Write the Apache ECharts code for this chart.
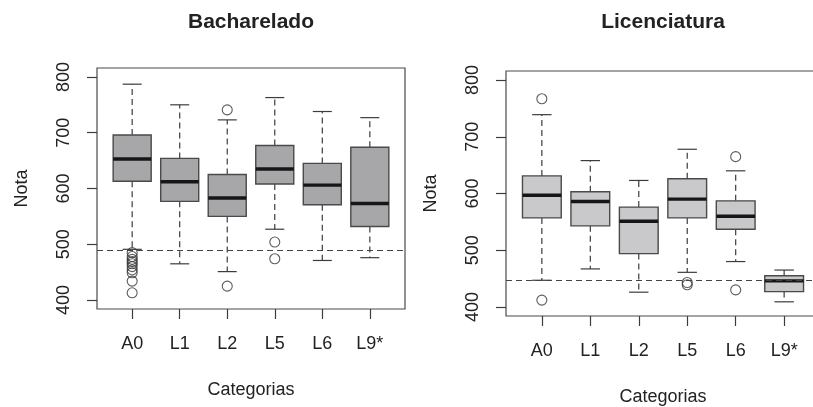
<!DOCTYPE html>
<html>
<head>
<meta charset="utf-8">
<style>
  html, body { margin: 0; padding: 0; background: #fff; }
  #main { width: 813px; height: 407px; }
</style>
<script src="https://cdn.jsdelivr.net/npm/echarts@6/dist/echarts.min.js"></script>
</head>
<body>
<div id="main"></div>
<script>
// categorias
var categories = ['A0', 'L1', 'L2', 'L5', 'L6', 'L9*']
var yTicks = [400, 500, 600, 700, 800]

// Bacharelado: [min, Q1, mediana, Q3, max]
var bachStats = [
  [491, 613, 653, 696, 787],
  [465, 577, 612, 654, 750],
  [451, 550, 583, 625, 723],
  [527, 608, 635, 677, 763],
  [471, 571, 606, 645, 738],
  [476, 532, 573, 674, 727]
]
// [indice da categoria, nota]
var bachOutliers = [
  [0, 485], [0, 478], [0, 473], [0, 469], [0, 465], [0, 460], [0, 454], [0, 449], [0, 434], [0, 413],
  [2, 741], [2, 425],
  [3, 504], [3, 474]
]
var bachCut = 490

// Licenciatura
var licStats = [
  [447, 557, 597, 631, 739],
  [467, 543, 586, 603, 658],
  [426, 494, 551, 576, 623],
  [461, 557, 590, 626, 678],
  [480, 537, 560, 587, 640],
  [409, 427, 446, 455, 465]
]
var licOutliers = [
  [0, 767], [0, 412],
  [3, 443], [3, 439],
  [4, 665], [4, 430]
]
var licCut = 447

var FONT = "'Liberation Sans', Arial, sans-serif"
var LINE = '#3c3c3c'

function boxData(stats) {
  return stats.map(function (s, i) { return [i + 1].concat(s) })
}
function outData(list) {
  return list.map(function (p) { return [p[0] + 1, p[1]] })
}

function makeRender(fill) {
  return function (params, api) {
    var x = api.value(0)
    var half = api.size([0.4, 0])[0]
    var cap = api.size([0.2, 0])[0]
    var pMin = api.coord([x, api.value(1)])
    var pQ1 = api.coord([x, api.value(2)])
    var pMed = api.coord([x, api.value(3)])
    var pQ3 = api.coord([x, api.value(4)])
    var pMax = api.coord([x, api.value(5)])
    var cx = pMin[0]
    var dash = { stroke: LINE, lineWidth: 1.2, lineDash: [6, 4] }
    var solid = { stroke: LINE, lineWidth: 1.2 }
    return {
      type: 'group',
      children: [
        { type: 'line', shape: { x1: cx, y1: pQ3[1], x2: cx, y2: pMax[1] }, style: dash },
        { type: 'line', shape: { x1: cx, y1: pQ1[1], x2: cx, y2: pMin[1] }, style: dash },
        { type: 'line', shape: { x1: cx - cap, y1: pMax[1], x2: cx + cap, y2: pMax[1] }, style: solid },
        { type: 'line', shape: { x1: cx - cap, y1: pMin[1], x2: cx + cap, y2: pMin[1] }, style: solid },
        {
          type: 'rect',
          shape: { x: cx - half, y: pQ3[1], width: half * 2, height: pQ1[1] - pQ3[1] },
          style: { fill: fill, stroke: '#4a4a4a', lineWidth: 1.4 }
        },
        {
          type: 'line',
          shape: { x1: cx - half, y1: pMed[1], x2: cx + half, y2: pMed[1] },
          style: { stroke: '#161616', lineWidth: 3.4 }
        }
      ]
    }
  }
}

function makeXAxis(gridIndex, nameGap) {
  var ticks = categories.map(function (c, i) { return i + 1 })
  return {
    type: 'value',
    gridIndex: gridIndex,
    min: 0.26,
    max: 6.74,
    name: 'Categorias',
    nameLocation: 'middle',
    nameGap: nameGap,
    nameTextStyle: { fontFamily: FONT, fontSize: 18, color: '#222' },
    axisLine: { show: false },
    splitLine: { show: false },
    axisTick: { show: true, customValues: ticks, length: 10, lineStyle: { color: LINE, width: 1.2 } },
    axisLabel: {
      customValues: ticks,
      margin: 26,
      fontFamily: FONT,
      fontSize: 18,
      color: '#222',
      formatter: function (v) { return categories[Math.round(v) - 1] }
    }
  }
}

function makeYAxis(gridIndex) {
  return {
    type: 'value',
    gridIndex: gridIndex,
    min: 384,
    max: 816,
    name: 'Nota',
    nameLocation: 'middle',
    nameGap: 66,
    nameTextStyle: { fontFamily: FONT, fontSize: 18, color: '#222' },
    axisLine: { show: false },
    splitLine: { show: false },
    axisTick: { show: true, customValues: yTicks, length: 10, lineStyle: { color: LINE, width: 1.2 } },
    axisLabel: {
      customValues: yTicks,
      rotate: 90,
      margin: 24,
      fontFamily: FONT,
      fontSize: 18,
      color: '#222'
    }
  }
}

function cutLine(value) {
  return {
    silent: true,
    symbol: 'none',
    label: { show: false },
    lineStyle: { color: '#444', type: [6, 4], width: 1.1 },
    data: [{ yAxis: value }]
  }
}

var myChart = echarts.init(document.getElementById('main'))
var option = {
  animation: false,
  title: [
    {
      text: 'Bacharelado', left: 251, top: 12, textAlign: 'center', padding: 0,
      textStyle: { fontFamily: FONT, fontSize: 21, fontWeight: 'bold', color: '#222' }
    },
    {
      text: 'Licenciatura', left: 663, top: 12, textAlign: 'center', padding: 0,
      textStyle: { fontFamily: FONT, fontSize: 21, fontWeight: 'bold', color: '#222' }
    }
  ],
  grid: [
    {
      left: 97, top: 68, width: 308, height: 241, outerBoundsMode: 'none',
      show: true, borderColor: '#4a4a4a', borderWidth: 1.2, backgroundColor: 'transparent'
    },
    {
      left: 506, top: 71, width: 314, height: 245, outerBoundsMode: 'none',
      show: true, borderColor: '#4a4a4a', borderWidth: 1.2, backgroundColor: 'transparent'
    }
  ],
  xAxis: [makeXAxis(0, 72), makeXAxis(1, 72)],
  yAxis: [makeYAxis(0), makeYAxis(1)],
  series: [
    {
      type: 'custom',
      xAxisIndex: 0,
      yAxisIndex: 0,
      renderItem: makeRender('#a7a7aa'),
      encode: { x: 0, y: [1, 2, 3, 4, 5] },
      data: boxData(bachStats)
    },
    {
      type: 'scatter',
      xAxisIndex: 0,
      yAxisIndex: 0,
      symbol: 'circle',
      symbolSize: 10,
      itemStyle: { color: 'rgba(0,0,0,0)', borderColor: '#333', borderWidth: 1.1 },
      data: outData(bachOutliers),
      markLine: cutLine(bachCut)
    },
    {
      type: 'custom',
      xAxisIndex: 1,
      yAxisIndex: 1,
      renderItem: makeRender('#c9c9cb'),
      encode: { x: 0, y: [1, 2, 3, 4, 5] },
      data: boxData(licStats)
    },
    {
      type: 'scatter',
      xAxisIndex: 1,
      yAxisIndex: 1,
      symbol: 'circle',
      symbolSize: 10,
      itemStyle: { color: 'rgba(0,0,0,0)', borderColor: '#333', borderWidth: 1.1 },
      data: outData(licOutliers),
      markLine: cutLine(licCut)
    }
  ]
}
myChart.setOption(option)
</script>
</body>
</html>
